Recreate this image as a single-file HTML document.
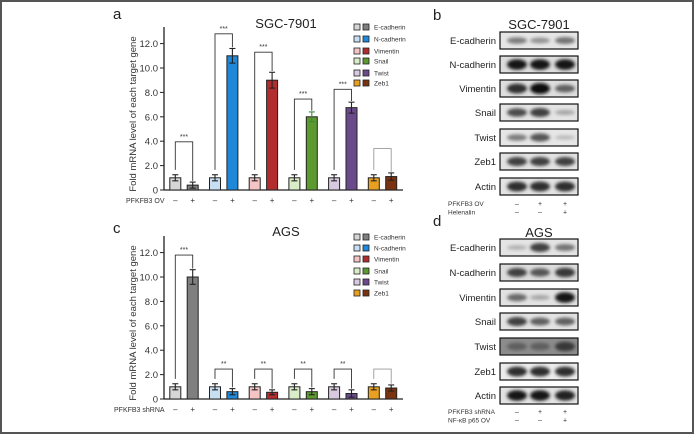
<!DOCTYPE html>
<html><head><meta charset="utf-8"><style>
body{margin:0;background:#fff}
#wrap{position:relative;width:694px;height:434px;overflow:hidden;box-sizing:border-box;border:2px solid #555;border-bottom-width:2px;background:#fff}
svg{position:absolute;left:-2px;top:-2px;font-family:"Liberation Sans",sans-serif}
</style></head><body>
<div id="wrap">
<svg id="svg" width="694" height="434" viewBox="0 0 694 434">
<defs><filter id="blur" x="-20%" y="-50%" width="140%" height="200%"><feGaussianBlur stdDeviation="1.6"/></filter></defs>
</svg>
</div>
<script>
const genes=["E-cadherin","N-cadherin","Vimentin","Snail","Twist","Zeb1"];
const lightColors=["#d6d6d6","#c8def2","#f5c4c4","#d9edc9","#d8c9e0","#e8a020"];
const darkColors=["#7f7f7f","#1f88d9","#b22e2e","#5c9a30","#6b4a8c","#7a3210"];
const yTicks=[0,2,4,6,8,10,12];
const yTickLabels=["0","2.0","4.0","6.0","8.0","10.0","12.0"];
// panel a
const aMinus=[1.0,1.0,1.0,1.0,1.0,1.0];
const aMinusErr=[0.25,0.25,0.25,0.25,0.25,0.25];
const aPlus=[0.4,11.0,9.0,6.0,6.75,1.1];
const aPlusErr=[0.25,0.6,0.65,0.4,0.45,0.3];
const aBracket=[3.95,12.8,11.3,7.45,8.25,3.4];
const aStars=["***","***","***","***","***",""];
// panel c
const cMinus=[1.0,1.0,1.0,1.0,1.0,1.0];
const cMinusErr=[0.25,0.25,0.25,0.25,0.25,0.25];
const cPlus=[10.0,0.6,0.55,0.6,0.45,0.9];
const cPlusErr=[0.6,0.25,0.2,0.25,0.3,0.25];
const cBracket=[11.8,2.45,2.45,2.45,2.45,2.45];
const cStars=["***","**","**","**","**",""];
// western blot band intensities (0..1) per lane
const bBands=[[0.45,0.35,0.5],[0.95,0.95,0.95],[0.85,1.0,0.6],[0.7,0.75,0.25],[0.45,0.65,0.15],[0.75,0.75,0.75],[0.85,0.85,0.85]];
const dBands=[[0.2,0.75,0.5],[0.75,0.65,0.8],[0.55,0.25,0.95],[0.75,0.6,0.6],[0.6,0.6,0.8],[0.85,0.85,0.85],[0.95,0.95,0.9]];
const blotLabels=["E-cadherin","N-cadherin","Vimentin","Snail","Twist","Zeb1","Actin"];

const S=document.getElementById('svg');const NS="http://www.w3.org/2000/svg";
function el(t,a,txt){const e=document.createElementNS(NS,t);for(const k in a)e.setAttribute(k,a[k]);if(txt!==undefined)e.textContent=txt;S.appendChild(e);return e;}

function barPanel(o){
  const x0=164,xEnd=403,base=o.base,ppu=12.2;
  const y=v=>base-v*ppu;
  const xm=i=>175.3+i*39.7, xp=i=>xm(i)+17.4;
  let e;
  e=el('text',{x:113,y:o.letterY,'font-size':15,fill:'#222'},o.letter);
  
  e=el('text',{x:286,y:o.titleY,'font-size':13,'text-anchor':'middle',fill:'#222'},o.title);
  
  e=el('line',{x1:x0,y1:base,x2:xEnd,y2:base,stroke:'#222','stroke-width':1.3});
  
  e=el('line',{x1:x0,y1:base,x2:x0,y2:base-163,stroke:'#222','stroke-width':1.3});
  
  yTicks.forEach((t,i)=>{
    el('line',{x1:x0-4,y1:y(t),x2:x0,y2:y(t),stroke:'#222'});
    e=el('text',{x:x0-6,y:y(t)+3.5,'font-size':9.5,'text-anchor':'end',fill:'#333'},yTickLabels[i]);
    
  });
  const cy=base-76;
  e=el('text',{x:136,y:cy,'font-size':9.5,'text-anchor':'middle',fill:'#333',transform:`rotate(-90 136 ${cy})`},'Fold mRNA level of each target gene');
  
  for(let i=0;i<6;i++){
    [[xm(i),o.minus[i],o.minusErr[i],lightColors[i]],[xp(i),o.plus[i],o.plusErr[i],darkColors[i]]].forEach((b,j)=>{
      e=el('rect',{x:b[0]-5.5,y:y(b[1]),width:11,height:b[1]*ppu,fill:b[3],stroke:'#222','stroke-width':1});
      
      const c=(o.letter==='a'&&i===3&&j===1)?'#3a8a3a':'#222';
      el('line',{x1:b[0],y1:y(b[1]+b[2]),x2:b[0],y2:y(Math.max(0,b[1]-b[2])),stroke:c,'stroke-width':1.1});
      el('line',{x1:b[0]-3,y1:y(b[1]+b[2]),x2:b[0]+3,y2:y(b[1]+b[2]),stroke:c,'stroke-width':1.1});
      el('line',{x1:b[0]-3,y1:y(Math.max(0,b[1]-b[2])),x2:b[0]+3,y2:y(Math.max(0,b[1]-b[2])),stroke:c,'stroke-width':1.1});
    });
    const bt=y(o.bracket[i]);
    const col=o.stars[i]?'#333':'#999';
    e=el('polyline',{points:`${xm(i)},${y(o.minus[i]+o.minusErr[i]+0.4)} ${xm(i)},${bt} ${xp(i)},${bt} ${xp(i)},${y(o.plus[i]+o.plusErr[i]+0.1)}`,fill:'none',stroke:col,'stroke-width':0.9});
    
    if(o.stars[i]){e=el('text',{x:(xm(i)+xp(i))/2,y:bt-3,'font-size':7,'text-anchor':'middle',fill:'#333'},o.stars[i]);
      }
    el('text',{x:xm(i),y:base+13,'font-size':8,'text-anchor':'middle',fill:'#333'},'–');
    el('text',{x:xp(i),y:base+13,'font-size':8,'text-anchor':'middle',fill:'#333'},'+');
  }
  e=el('text',{x:o.condX,y:base+13,'font-size':7,fill:'#333'},o.cond);
  
  o.legY.forEach((ly,i)=>{
    el('rect',{x:354,y:ly-3,width:6,height:6,fill:lightColors[i],stroke:'#222','stroke-width':0.8});
    el('rect',{x:363,y:ly-3,width:6,height:6,fill:darkColors[i],stroke:'#222','stroke-width':0.8});
    e=el('text',{x:374,y:ly+2.5,'font-size':6.5,fill:'#333'},genes[i]);
    
  });
}
barPanel({letter:'a',title:'SGC-7901',base:190,letterY:19,titleY:28,minus:aMinus,minusErr:aMinusErr,plus:aPlus,plusErr:aPlusErr,bracket:aBracket,stars:aStars,cond:'PFKFB3 OV',condX:126,legY:[27,39,51,61,73,83]});
barPanel({letter:'c',title:'AGS',base:399,letterY:233,titleY:236,minus:cMinus,minusErr:cMinusErr,plus:cPlus,plusErr:cPlusErr,bracket:cBracket,stars:cStars,cond:'PFKFB3 shRNA',condX:114,legY:[237,248,259,271,282,293]});

function blot(o){
  const lanes=[517,540,565];let e;
  e=el('text',{x:433,y:o.letterY,'font-size':15,fill:'#222'},o.letter);
  
  e=el('text',{x:539,y:o.titleY,'font-size':13,'text-anchor':'middle',fill:'#222'},o.title);
  
  o.rows.forEach((ry,r)=>{
    const bg=o.bg[r];
    e=el('rect',{x:500,y:ry,width:78,height:17,fill:bg,stroke:'#111','stroke-width':1.2});
    
    o.bands[r].forEach((v,l)=>{
      const g=Math.round(215-200*v);
      e=el('ellipse',{cx:lanes[l],cy:ry+8.5,rx:10,ry:1.5+4*v,fill:`rgb(${g},${g},${g})`,filter:'url(#blur)'});
      
    });
    e=el('text',{x:496,y:ry+12,'font-size':9.5,'text-anchor':'end',fill:'#222'},blotLabels[r]);
    
  });
  o.conds.forEach((c,k)=>{
    const yy=o.condY+k*8.5;
    e=el('text',{x:448,y:yy,'font-size':6.5,fill:'#333'},c[0]);
    
    c[1].forEach((s,l)=>el('text',{x:lanes[l],y:yy,'font-size':7,'text-anchor':'middle',fill:'#333'},s));
  });
}
blot({letter:'b',title:'SGC-7901',letterY:20,titleY:29,rows:[32,56,80,104,129,153,178],bands:bBands,bg:['#e6e6e6','#ddd','#dedede','#e4e4e4','#e6e6e6','#e2e2e2','#e3e3e3'],conds:[['PFKFB3 OV',['–','+','+']],['Helenalin',['–','–','+']]],condY:206});
blot({letter:'d',title:'AGS',letterY:226,titleY:237,rows:[239,264,289,313,338,363,387],bands:dBands,bg:['#e4e4e4','#dcdcdc','#e2e2e2','#e3e3e3','#8c8c8c','#ececec','#e3e3e3'],conds:[['PFKFB3  shRNA',['–','+','+']],['NF-κB p65 OV',['–','–','+']]],condY:414});
</script>
</body></html>
